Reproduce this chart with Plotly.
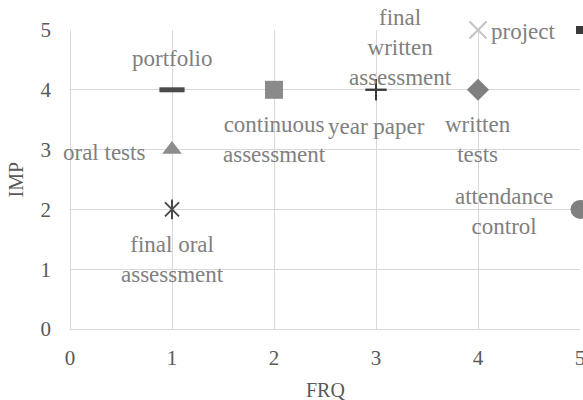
import plotly.graph_objects as go

# data
labels = ["portfolio", "oral tests", "final oral<br>assessment", "continuous<br>assessment",
          "year paper", "final<br>written<br>assessment", "written<br>tests", "project",
          "attendance<br>control", ""]
frq = [1, 1, 1, 2, 3, 3, 4, 4, 5, 5]
imp = [4, 3, 2, 4, 4, 4, 4, 5, 2, 5]
x_title = "FRQ"
y_title = "IMP"

# styles (per point)
symbols = ["line-ew-open", "triangle-up", "x-thin-open", "square", "cross-thin-open",
           "cross-thin-open", "diamond", "x-thin-open", "circle", "square"]
colors = ["#4a4a4a", "#8c8c8c", "#4a4a4a", "#8a8a8a", "#3a3a3a", "#3a3a3a",
          "#7f7f7f", "#c4c4c4", "#808080", "#3a3a3a"]
sizes = [18, 17, 14, 18, 15, 15, 17, 17, 19, 8]
lwidths = [5, 0, 2, 0, 2, 2, 0, 2, 0, 0]
# label placement: (xanchor, xshift, yshift)
lab_pos = [("center", 0, 31), ("right", -25, -3), ("center", 0, -50), ("center", 0, -50),
           ("center", 0, -37), ("center", 24, 42), ("center", 0, -50), ("left", 11, -1),
           ("right", -25, -2), ("center", 0, 0)]

FONT = "Liberation Serif, Times New Roman, serif"
fig = go.Figure()
for i in range(len(frq)):
    fig.add_trace(go.Scatter(
        x=[frq[i]], y=[imp[i]], mode="markers", cliponaxis=False, showlegend=False,
        marker=dict(symbol=symbols[i], size=sizes[i], color=colors[i],
                    line=dict(width=lwidths[i], color=colors[i]))))
    if i == 2:  # star marker: add vertical bar
        fig.add_trace(go.Scatter(
            x=[frq[i]], y=[imp[i]], mode="markers", cliponaxis=False, showlegend=False,
            marker=dict(symbol="line-ns-open", size=sizes[i], color=colors[i],
                        line=dict(width=2, color=colors[i]))))
    if labels[i]:
        xa, xs, ys = lab_pos[i]
        fig.add_annotation(x=frq[i], y=imp[i], text=labels[i], showarrow=False,
                           xanchor=xa, yanchor="middle", xshift=xs, yshift=ys,
                           align="center",
                           font=dict(family=FONT, size=23, color="#808080"))

# axis titles
fig.add_annotation(x=0.5, y=0, xref="paper", yref="paper", text=x_title, showarrow=False,
                   xanchor="center", yanchor="middle", yshift=-61,
                   font=dict(family=FONT, size=20, color="#595959"))
fig.add_annotation(x=0, y=0.5, xref="paper", yref="paper", text=y_title, showarrow=False,
                   textangle=-90, xanchor="center", yanchor="middle", xshift=-55,
                   font=dict(family=FONT, size=20, color="#595959"))

axis_common = dict(showgrid=True, gridcolor="#d9d9d9", gridwidth=1, zeroline=True,
                   zerolinecolor="#d9d9d9", zerolinewidth=1, showline=False, ticks="",
                   automargin=False, ticklabeloverflow="allow",
                   tickfont=dict(family=FONT, size=21, color="#595959"), dtick=1)
fig.update_xaxes(range=[0, 5], ticklabelstandoff=14, **axis_common)
fig.update_yaxes(range=[0, 5], ticklabelstandoff=18, **axis_common)
fig.update_layout(width=583, height=400, margin=dict(l=70, r=3, t=30, b=71),
                  plot_bgcolor="white", paper_bgcolor="white")
fig.write_html("out.html", config={"displayModeBar": False},
               post_script="document.body.style.margin='0';document.body.style.overflow='hidden';")
